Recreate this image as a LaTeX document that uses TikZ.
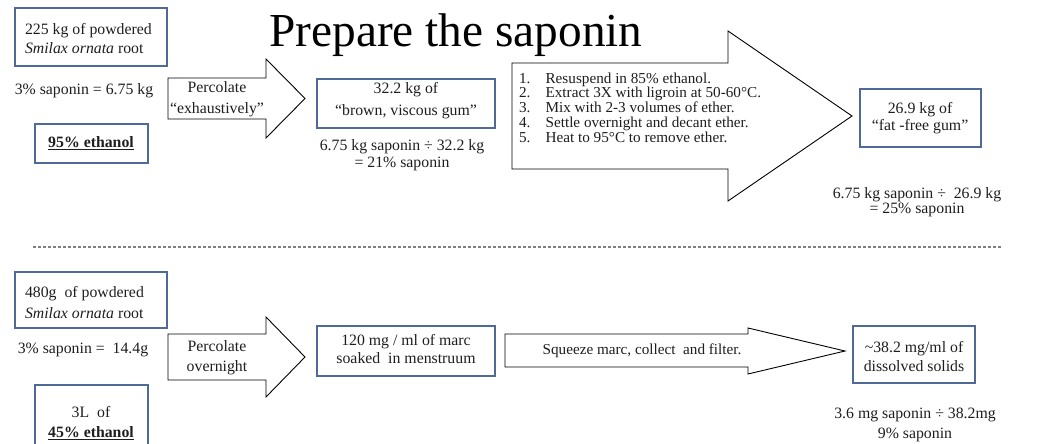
\documentclass[tikz,border=0pt]{standalone}
\usepackage{fontspec}
\setmainfont{Liberation Serif}
\definecolor{boxblue}{RGB}{79,106,150}
\definecolor{txt}{RGB}{30,30,30}
\begin{document}
\begin{tikzpicture}[x=1pt,y=-1pt,
  every node/.style={inner sep=0pt, outer sep=0pt, text=txt, font=\fontsize{15.8}{19}\selectfont},
  bluebox/.style={draw=boxblue, line width=1.3pt},
  blockarrow/.style={draw=black, line width=0.9pt, fill=white, line join=miter},
  txt2/.style={align=center, font=\fontsize{15.8}{17}\selectfont}]
\useasboundingbox (0,0) rectangle (1041,444);

% ---------- title
\node[anchor=base, text=black, font=\fontsize{47.3}{50}\selectfont] (title) at (456,47) {Prepare the saponin};

% ---------- top row
\draw[bluebox] (15,8) rectangle (167,66);
\node[anchor=west, align=left, font=\fontsize{15.8}{19.5}\selectfont] (b1) at (25,38.5) {225 kg of powdered\\\textit{Smilax ornata} root};
\node (t1) at (84,91) {3\% saponin = 6.75 kg};
\draw[bluebox] (35,124) rectangle (148,163);
\node (b2) at (91,143) {\underline{\textbf{95\% ethanol}}};

\draw[blockarrow] (168,78) -- (266,78) -- (266,59) -- (305,98.5) -- (266,138) -- (266,119) -- (168,119) -- cycle;
\node[txt2, font=\fontsize{15.8}{21}\selectfont] (a1) at (217,99.5) {Percolate\\“exhaustively”};

\draw[bluebox] (317,79) rectangle (495,128);
\node[txt2, font=\fontsize{15.8}{22}\selectfont] (b3) at (406,101) {32.2 kg of\\“brown, viscous gum”};
\node[txt2] (t3) at (402,155.5) {6.75 kg saponin ÷ 32.2 kg\\= 21\% saponin};

\draw[blockarrow] (512,63) -- (728,63) -- (728,31) -- (852,116) -- (728,201) -- (728,169) -- (512,169) -- cycle;
\node[anchor=north west, align=left, font=\fontsize{15.2}{14.8}\selectfont] (list) at (519,72.5) {%
1.\hspace{1em}Resuspend in 85\% ethanol.\\
2.\hspace{1em}Extract 3X with ligroin at 50-60°C.\\
3.\hspace{1em}Mix with 2-3 volumes of ether.\\
4.\hspace{1em}Settle overnight and decant ether.\\
5.\hspace{1em}Heat to 95°C to remove ether.};

\draw[bluebox] (860,89) rectangle (981,147);
\node[txt2] (b4) at (920,118) {26.9 kg of\\“fat -free gum”};
\node[txt2, font=\fontsize{15.8}{15}\selectfont] (t4) at (917,202.5) {6.75 kg saponin ÷\ \ 26.9 kg\\= 25\% saponin};

% ---------- separator
\coordinate (sepL) at (33,247);
\coordinate (sepR) at (1002,247);
\draw[gray, line width=1.2pt, dash pattern=on 3pt off 2pt] (sepL) -- (sepR);

% ---------- bottom row
\draw[bluebox] (15,272) rectangle (167,328);
\node[anchor=west, align=left, font=\fontsize{15.8}{21}\selectfont] (b5) at (25,302.5) {480g\ \ of powdered\\\textit{Smilax ornata} root};
\node (t5) at (83,350) {3\% saponin =\ \ 14.4g};
\draw[bluebox] (35,446) -- (35,385) -- (148,385) -- (148,446);
\node[txt2, font=\fontsize{15.8}{20}\selectfont] (b6) at (91,423) {3L\ \ of\\\underline{\textbf{45\% ethanol}}};

\draw[blockarrow] (168,334) -- (266,334) -- (266,317) -- (305,357) -- (266,397) -- (266,380) -- (168,380) -- cycle;
\node[txt2, font=\fontsize{15.8}{20}\selectfont] (a3) at (217,358) {Percolate\\overnight};

\draw[bluebox] (317,326) rectangle (495,376);
\node[txt2, font=\fontsize{15.8}{18}\selectfont] (b7) at (406,349) {120 mg / ml of marc\\soaked\ \ in menstruum};

\draw[blockarrow] (505,334) -- (748,334) -- (748,328) -- (845,351) -- (748,374) -- (748,367) -- (505,367) -- cycle;
\node[font=\fontsize{15.2}{18}\selectfont] (a4) at (642,351) {Squeeze marc, collect\ \ and filter.};

\draw[bluebox] (853,326) rectangle (975,383);
\node[txt2, font=\fontsize{15.8}{19}\selectfont] (b8) at (914,356.5) {\textasciitilde38.2 mg/ml of\\dissolved solids};
\node[txt2, font=\fontsize{15.8}{20}\selectfont] (t8) at (915,425) {3.6 mg saponin ÷ 38.2mg\\9\% saponin};
\end{tikzpicture}
\end{document}
